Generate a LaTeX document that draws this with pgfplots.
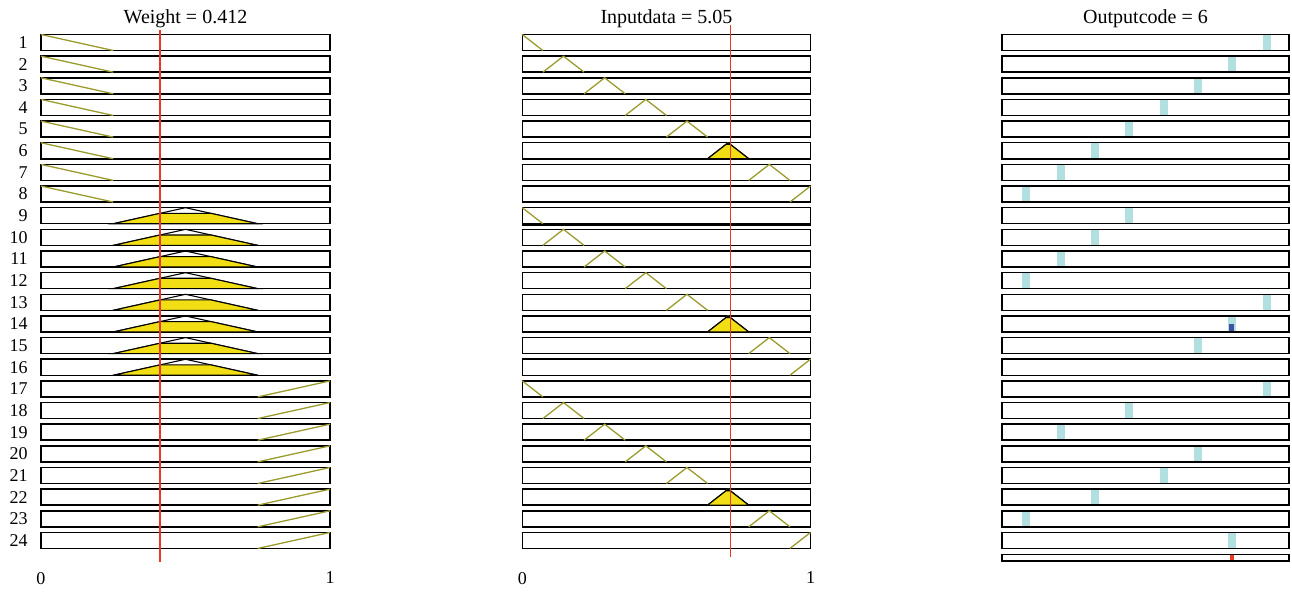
\documentclass[border=0pt]{standalone}
\usepackage{fontspec}
\setmainfont{Liberation Serif}
\usepackage{pgfplots}
\usepackage{pgfplotstable}
\pgfplotsset{compat=1.18}

\definecolor{mfolive}{RGB}{155,155,45}
\definecolor{mfyellow}{RGB}{242,222,20}
\definecolor{inred}{RGB}{235,55,35}
\definecolor{outcyan}{RGB}{178,224,224}
\definecolor{outblue}{RGB}{65,80,165}

% row frame (membership 0..1)
\pgfplotstableread{
x mu
0 1
1 1
1 0
0 0
}\boxtab
% Weight membership functions
\pgfplotstableread{
x mu
0 1
0.25 0
}\wA
\pgfplotstableread{
x mu
0.25 0
0.5 1
0.75 0
}\wB
\pgfplotstableread{
x mu
0.25 0
0.412 0.648
0.588 0.648
0.75 0
}\wBfill
\pgfplotstableread{
x mu
0.75 0
1 1
}\wC
% Inputdata membership functions
\pgfplotstableread{
x1 m1 x2 m2 x3 m3 x4 m4 x5 m5 x6 m6 x7 m7 x8 m8
0 1 0.0714 0 0.2143 0 0.3571 0 0.5 0 0.6429 0 0.7857 0 0.9286 0
0.0714 0 0.1429 1 0.2857 1 0.4286 1 0.5714 1 0.7143 1 0.8571 1 1 1
0.0714 0 0.2143 0 0.3571 0 0.5 0 0.6429 0 0.7857 0 0.9286 0 1 1
}\inmf
\pgfplotstableread{
x mu
0.6429 0
0.7071 0.9
0.7214 0.9
0.7857 0
}\infill
\pgfplotstableread{
x mu
0 0
0 1
}\bartab

\newcommand\plotrow[4]{%
  \edef\tmp{\noexpand\addplot[#1] table[x=x, y expr={\noexpand\thisrow{mu}*0.74-0.37-#3}] {\noexpand#2} #4;}\tmp}
\newcommand\plotin[3]{%
  \edef\tmp{\noexpand\addplot[#1] table[x=x#2, y expr={\noexpand\thisrow{m#2}*0.74-0.37-#3}] {\noexpand\inmf};}\tmp}
\newcommand\plotbar[3]{%
  \edef\tmp{\noexpand\addplot[#1] table[x expr={#3}, y expr={\noexpand\thisrow{mu}*0.74-0.37-#2}] {\noexpand\bartab};}\tmp}
\def\splitpair#1/#2\relax{\def\r{#1}\def\c{#2}}

\pgfplotsset{rowaxis/.style={
  scale only axis, xmin=0, xmax=1, ymin=-25, ymax=0, height=270.625pt,
  axis line style={draw=none}, major tick style={draw=none}, clip=false,
  anchor=north west,
  title style={at={(0.5,1)}, anchor=base, inner sep=0pt, yshift=-7.3pt, font=\fontsize{10}{12}\selectfont},
  tick label style={font=\fontsize{9}{10}\selectfont},
  xticklabel style={anchor=north, inner sep=0pt, yshift=-4.8pt},
  yticklabel style={anchor=east, inner sep=0pt, xshift=-6.5pt},
  /pgf/number format/assume math mode=true,
  boxstyle/.style={draw=black, line width=0.75pt, line join=miter},
  mfstyle/.style={draw=mfolive, line width=0.65pt},
}}

\begin{document}
\begin{tikzpicture}
\useasboundingbox (0,0) rectangle (646pt,-295.5pt);

% ---------- Weight ----------
\begin{axis}[rowaxis, at={(20.5pt,-10.425pt)}, width=144.5pt,
  title={Weight = 0.412}, xtick={0,1},
  ytick={-1,-2,...,-24},
  yticklabels={1,2,3,4,5,6,7,8,9,10,11,12,13,14,15,16,17,18,19,20,21,22,23,24}]
\pgfplotsforeachungrouped \r in {1,...,24}{\plotrow{boxstyle}{\boxtab}{\r}{-- cycle}}
\pgfplotsforeachungrouped \r in {1,...,8}{\plotrow{mfstyle}{\wA}{\r}{}}
\pgfplotsforeachungrouped \r in {9,...,16}{%
  \plotrow{draw=black, line width=0.55pt}{\wB}{\r}{}%
  \plotrow{fill=mfyellow, draw=black, line width=0.55pt}{\wBfill}{\r}{-- cycle}}
\pgfplotsforeachungrouped \r in {17,...,24}{\plotrow{mfstyle}{\wC}{\r}{}}
\addplot[draw=inred, line width=0.7pt] coordinates {(0.412,-0.42) (0.412,-25)};
\end{axis}

% ---------- Inputdata ----------
\begin{axis}[rowaxis, at={(261.15pt,-10.425pt)}, width=144.1pt,
  title={Inputdata = 5.05}, xtick={0,1}, ytick=\empty]
\pgfplotsforeachungrouped \r in {1,...,24}{\plotrow{boxstyle}{\boxtab}{\r}{-- cycle}}
\addplot[boxstyle] coordinates {(0,-9.44) (1,-9.44)};
\pgfplotsforeachungrouped \g in {0,8,16}{%
  \pgfplotsforeachungrouped \k in {1,...,8}{%
    \pgfmathtruncatemacro\r{\g+\k}%
    \plotin{mfstyle}{\k}{\r}}}
\pgfplotsforeachungrouped \r in {6,14,22}{%
  \plotin{draw=black, line width=0.55pt}{6}{\r}%
  \plotrow{fill=mfyellow, draw=black, line width=0.55pt}{\infill}{\r}{-- cycle}}
\addplot[draw=inred, line width=0.7pt] coordinates {(0.722,-0.19) (0.722,-24.77)};
\end{axis}

% ---------- Outputcode ----------
\begin{axis}[rowaxis, at={(501pt,-10.425pt)}, width=143.5pt,
  title={Outputcode = 6}, xtick=\empty, ytick=\empty]
\pgfplotsforeachungrouped \p in {1/0.923, 2/0.801, 3/0.683, 4/0.564, 5/0.442, 6/0.324,
  7/0.206, 8/0.084, 9/0.442, 10/0.324, 11/0.206, 12/0.084, 13/0.923, 14/0.801,
  15/0.683, 17/0.923, 18/0.442, 19/0.206, 20/0.683, 21/0.564, 22/0.324,
  23/0.084, 24/0.801}{%
  \expandafter\splitpair\p\relax
  \plotbar{draw=outcyan, line width=4pt}{\r}{\c}}
\addplot[draw=outblue, line width=2.5pt] coordinates {(0.801,-14.37) (0.801,-14.0)};
\pgfplotsforeachungrouped \r in {1,...,24}{\plotrow{boxstyle}{\boxtab}{\r}{-- cycle}}
\addplot[boxstyle] coordinates {(0,-21.59) (1,-21.59)};
% aggregated output
\addplot[draw=inred, line width=2pt] coordinates {(0.801,-24.96) (0.801,-24.66)};
\addplot[draw=outblue, line width=3pt] coordinates {(0.801,-24.96) (0.801,-24.91)};
\addplot[boxstyle] coordinates {(0,-24.66) (1,-24.66) (1,-24.96) (0,-24.96)} -- cycle;
\end{axis}
\end{tikzpicture}
\end{document}
